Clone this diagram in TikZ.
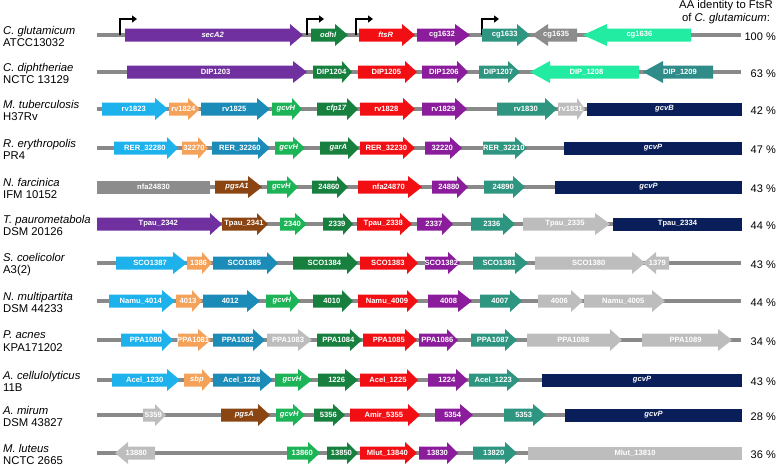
\documentclass[tikz,border=0pt]{standalone}
\usepackage{fontspec}
\setmainfont{Liberation Sans}
\usetikzlibrary{arrows.meta}

\definecolor{cpurple}{HTML}{7030A0}
\definecolor{cmagenta}{HTML}{8B1C9C}
\definecolor{cred}{HTML}{F20F14}
\definecolor{cdkgreen}{HTML}{17803F}
\definecolor{cgreen}{HTML}{1CB456}
\definecolor{cteal}{HTML}{2E9580}
\definecolor{cmint}{HTML}{22EBA2}
\definecolor{cdteal}{HTML}{2F8C88}
\definecolor{clblue}{HTML}{1EB2EC}
\definecolor{corange}{HTML}{F4A15A}
\definecolor{cblue}{HTML}{1B8BB8}
\definecolor{cbrown}{HTML}{8A4513}
\definecolor{cnavy}{HTML}{0A1F5A}
\definecolor{clgray}{HTML}{BDBDBD}
\definecolor{cgray}{HTML}{8C8C8C}
\definecolor{cline}{HTML}{898989}

\newcounter{genecount}
% gene arrow: start, head start, tip, colour, label
\newcommand{\gene}[5]{%
  \stepcounter{genecount}%
  \fill[#4] (#1,-6.5) -- (#2,-6.5) -- (#2,-11) -- (#3,0) -- (#2,11) -- (#2,6.5) -- (#1,6.5) -- cycle;
  \node[genelabel] (gene\arabic{genecount}) at ({(#1+#2)/2+0.4*(#3-#2)},0) {#5};
}
% gene box: from, to, colour, label
\newcommand{\generect}[4]{%
  \stepcounter{genecount}%
  \fill[#3] (#1,-6.5) rectangle (#2,6.5);
  \node[genelabel] (gene\arabic{genecount}) at ({(#1+#2)/2},0) {#4};
}

\begin{document}
\begin{tikzpicture}[
    x=1pt, y=-1pt,
    genelabel/.style={text=white, inner sep=0pt, font=\fontsize{7.6}{9}\selectfont\bfseries},
    species/.style={anchor=west, align=left, inner sep=0pt, font=\fontsize{11.3}{12.7}\selectfont},
    ident/.style={anchor=east, inner sep=0pt, font=\fontsize{11}{13}\selectfont},
    backbone/.style={draw=cline, line width=3.5pt},
    promoter/.style={-{Triangle[length=5pt,width=7pt]}, line width=1.8pt, black}
]
    \useasboundingbox (0,0) rectangle (778,467);

    \node[align=center, inner sep=0pt, font=\fontsize{11.3}{13}\selectfont] (header) at (726,12.5)
        {AA identity to FtsR\\of \textit{C. glutamicum}:};

    % C. glutamicum
    \begin{scope}[shift={(0,35)}]
        \draw[backbone] (97,0) -- (741,0);
        \foreach \x in {120,307,356,482}
            \draw[promoter] (\x,0) |- (\x+17,-16);
        \foreach \a/\h/\b/\c/\t in {125/290/303/cpurple/\textit{secA2}, 311/335/348/cdkgreen/\textit{odhI},
            359/402/415/cred/\textit{ftsR}, 417/455/470/cmagenta/cg1632, 482/517/530/cteal/cg1633,
            577/548/532/cgray/cg1635, 691/607/583/cmint/cg1636}
            {\gene{\a}{\h}{\b}{\c}{\t}}
        \node[species] (sp1) at (3,1.5) {\textit{C. glutamicum}\\ATCC13032};
        \node[ident] (id1) at (776,1.5) {100 \%};
    \end{scope}

    % C. diphtheriae
    \begin{scope}[shift={(0,72)}]
        \draw[backbone] (97,0) -- (741,0);
        \foreach \a/\h/\b/\c/\t in {127/293/307/cpurple/DIP1203, 313/342/352/cdkgreen/DIP1204,
            358/405/417/cred/DIP1205, 422/457/468/cmagenta/DIP1206, 479/508/520/cteal/DIP1207,
            639/550/530/cmint/DIP\_1208, 713/663/643/cdteal/DIP\_1209}
            {\gene{\a}{\h}{\b}{\c}{\t}}
        \node[species] (sp2) at (3,1.5) {\textit{C. diphtheriae}\\NCTC 13129};
        \node[ident] (id2) at (776,1.5) {63 \%};
    \end{scope}

    % M. tuberculosis
    \begin{scope}[shift={(0,109)}]
        \draw[backbone] (97,0) -- (741,0);
        \foreach \a/\h/\b/\c/\t in {102/155/168/clblue/rv1823, 169/188/200/corange/rv1824,
            201/257/270/cblue/rv1825, 272/292/302/cgreen/\textit{gcvH}, 317/347/358/cdkgreen/\textit{cfp17},
            360/403/415/cred/rv1828, 422/455/467/cmagenta/rv1829, 497/545/557/cteal/rv1830,
            558/577/585/clgray/rv1831}
            {\gene{\a}{\h}{\b}{\c}{\t}}
        \generect{587}{742}{cnavy}{\textit{gcvB}}
        \node[species] (sp3) at (3,1.5) {\textit{M. tuberculosis}\\H37Rv};
        \node[ident] (id3) at (776,1.5) {42 \%};
    \end{scope}

    % R. erythropolis
    \begin{scope}[shift={(0,148)}]
        \draw[backbone] (97,0) -- (741,0);
        \foreach \a/\h/\b/\c/\t in {114/167/178/clblue/RER\_32280, 182/198/208/corange/32270,
            212/258/270/cblue/RER\_32260, 275/293/305/cgreen/\textit{gcvH}, 320/348/359/cdkgreen/\textit{garA},
            360/403/415/cred/RER\_32230, 425/450/462/cmagenta/32220, 483/515/527/cteal/RER\_32210}
            {\gene{\a}{\h}{\b}{\c}{\t}}
        \generect{564}{742}{cnavy}{\textit{gcvP}}
        \node[species] (sp4) at (3,1.5) {\textit{R. erythropolis}\\PR4};
        \node[ident] (id4) at (776,1.5) {47 \%};
    \end{scope}

    % N. farcinica
    \begin{scope}[shift={(0,187)}]
        \draw[backbone] (97,0) -- (741,0);
        \generect{97}{210}{cgray}{nfa24830}
        \foreach \a/\h/\b/\c/\t in {215/248/262/cbrown/\textit{pgsA1}, 267/287/298/cgreen/\textit{gcvH},
            312/337/348/cdkgreen/24860, 358/408/422/cred/nfa24870, 432/457/468/cmagenta/24880,
            484/513/525/cteal/24890}
            {\gene{\a}{\h}{\b}{\c}{\t}}
        \generect{555}{742}{cnavy}{\textit{gcvP}}
        \node[species] (sp5) at (3,1.5) {\textit{N. farcinica}\\IFM 10152};
        \node[ident] (id5) at (776,1.5) {43 \%};
    \end{scope}

    % T. paurometabola
    \begin{scope}[shift={(0,224)}]
        \draw[backbone] (97,0) -- (741,0);
        \foreach \a/\h/\b/\c/\t in {97/210/222/cpurple/Tpau\_2342, 222/257/268/cbrown/Tpau\_2341,
            280/295/307/cgreen/2340, 323/343/353/cdkgreen/2339, 357/400/412/cred/Tpau\_2338,
            417/442/453/cmagenta/2337, 471/503/515/cteal/2336, 523/595/610/clgray/Tpau\_2335}
            {\gene{\a}{\h}{\b}{\c}{\t}}
        \generect{613}{742}{cnavy}{Tpau\_2334}
        \node[species] (sp6) at (3,1.5) {\textit{T. paurometabola}\\DSM 20126};
        \node[ident] (id6) at (776,1.5) {44 \%};
    \end{scope}

    % S. coelicolor
    \begin{scope}[shift={(0,263)}]
        \draw[backbone] (97,0) -- (741,0);
        \foreach \a/\h/\b/\c/\t in {116/173/187/clblue/SCO1387, 187/202/212/corange/1386,
            213/267/278/cblue/SCO1385, 293/347/358/cdkgreen/SCO1384, 360/407/418/cred/SCO1383,
            425/448/460/cmagenta/SCO1382, 473/515/528/cteal/SCO1381, 535/632/645/clgray/SCO1380,
            669/656/643/clgray/1379}
            {\gene{\a}{\h}{\b}{\c}{\t}}
        \node[species] (sp7) at (3,1.5) {\textit{S. coelicolor}\\A3(2)};
        \node[ident] (id7) at (776,1.5) {43 \%};
    \end{scope}

    % N. multipartita
    \begin{scope}[shift={(0,301)}]
        \draw[backbone] (97,0) -- (741,0);
        \foreach \a/\h/\b/\c/\t in {109/162/175/clblue/Namu\_4014, 176/192/202/corange/4013,
            203/247/260/cblue/4012, 266/290/300/cgreen/\textit{gcvH}, 313/342/353/cdkgreen/4010,
            358/407/418/cred/Namu\_4009, 428/458/472/cmagenta/4008, 480/510/522/cteal/4007,
            538/571/583/clgray/4006, 584/652/665/clgray/Namu\_4005}
            {\gene{\a}{\h}{\b}{\c}{\t}}
        \node[species] (sp8) at (3,1.5) {\textit{N. multipartita}\\DSM 44233};
        \node[ident] (id8) at (776,1.5) {44 \%};
    \end{scope}

    % P. acnes
    \begin{scope}[shift={(0,340)}]
        \draw[backbone] (97,0) -- (741,0);
        \foreach \a/\h/\b/\c/\t in {121/162/173/clblue/PPA1080, 178/198/211/corange/PPA1081,
            213/253/265/cblue/PPA1082, 267/298/312/clgray/PPA1083, 317/350/362/cdkgreen/PPA1084,
            363/405/417/cred/PPA1085, 419/447/458/cmagenta/PPA1086, 471/505/517/cteal/PPA1087,
            527/610/622/clgray/PPA1088, 642/718/732/clgray/PPA1089}
            {\gene{\a}{\h}{\b}{\c}{\t}}
        \node[species] (sp9) at (3,1.5) {\textit{P. acnes}\\KPA171202};
        \node[ident] (id9) at (776,1.5) {34 \%};
    \end{scope}

    % A. cellulolyticus
    \begin{scope}[shift={(0,380)}]
        \draw[backbone] (97,0) -- (741,0);
        \foreach \a/\h/\b/\c/\t in {112/167/180/clblue/Acel\_1230, 184/202/212/corange/\textit{sbp},
            213/260/273/cblue/Acel\_1228, 275/298/312/cgreen/\textit{gcvH}, 318/345/358/cdkgreen/1226,
            360/407/418/cred/Acel\_1225, 428/456/468/cmagenta/1224, 469/507/520/cteal/Acel\_1223}
            {\gene{\a}{\h}{\b}{\c}{\t}}
        \generect{542}{742}{cnavy}{\textit{gcvP}}
        \node[species] (sp10) at (3,1.5) {\textit{A. cellulolyticus}\\11B};
        \node[ident] (id10) at (776,1.5) {43 \%};
    \end{scope}

    % A. mirum
    \begin{scope}[shift={(0,415)}]
        \draw[backbone] (97,0) -- (741,0);
        \foreach \a/\h/\b/\c/\t in {143/155/166/clgray/5359, 221/258/270/cbrown/\textit{pgsA},
            276/293/305/cgreen/\textit{gcvH}, 314/333/345/cdkgreen/5356, 350/408/420/cred/Amir\_5355,
            435/460/473/cmagenta/5354, 504/533/546/cteal/5353}
            {\gene{\a}{\h}{\b}{\c}{\t}}
        \generect{565}{742}{cnavy}{\textit{gcvP}}
        \node[species] (sp11) at (3,1.5) {\textit{A. mirum}\\DSM 43827};
        \node[ident] (id11) at (776,1.5) {28 \%};
    \end{scope}

    % M. luteus
    \begin{scope}[shift={(0,453)}]
        \draw[backbone] (97,0) -- (741,0);
        \foreach \a/\h/\b/\c/\t in {155/128/115/clgray/13880, 287/308/320/cgreen/13860,
            327/347/358/cdkgreen/13850, 360/405/417/cred/Mlut\_13840, 419/447/458/cmagenta/13830,
            473/505/517/cteal/13820}
            {\gene{\a}{\h}{\b}{\c}{\t}}
        \generect{528}{742}{clgray}{Mlut\_13810}
        \node[species] (sp12) at (3,1.5) {\textit{M. luteus}\\NCTC 2665};
        \node[ident] (id12) at (776,1.5) {36 \%};
    \end{scope}
\end{tikzpicture}
\end{document}
